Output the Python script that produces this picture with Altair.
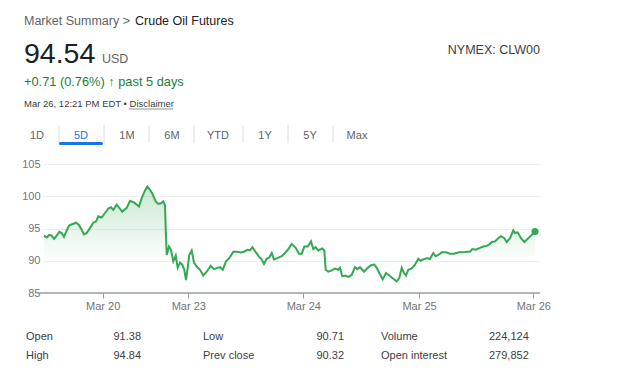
import altair as alt
import pandas as pd

# ---- price series (trading hours since start, price) ----
hours = [0.0, 0.54, 1.06, 1.54, 2.0, 2.54, 3.06, 3.54, 4.0, 4.54, 5.06, 5.74, 6.4, 6.94, 7.54, 8.0,
         8.54, 9.2, 9.86, 10.4, 10.86, 11.54, 12.2, 12.86, 13.4, 13.86, 14.54, 15.06, 15.66, 16.54,
         17.2, 18.06, 19.0, 19.54, 20.2, 20.66, 21.2, 21.74, 22.34, 22.86, 23.4, 23.86, 24.2, 24.34,
         24.54, 25.0, 25.4, 25.86, 26.34, 26.74, 27.2, 27.66, 28.06, 28.4, 28.74, 29.06, 29.54, 30.0,
         30.54, 31.2, 31.86, 32.54, 33.34, 34.0, 34.66, 35.2, 35.74, 36.4, 37.06, 37.86, 38.54, 39.34,
         40.0, 40.66, 41.2, 41.66, 42.2, 42.86, 43.54, 44.0, 44.54, 45.06, 45.54, 46.0, 46.66, 47.54,
         48.2, 48.86, 49.54, 50.34, 51.0, 51.54, 52.06, 52.74, 53.4, 53.86, 54.34, 54.86, 55.66, 56.06,
         56.34, 56.86, 57.54, 58.2, 58.86, 59.2, 59.66, 60.2, 60.86, 61.54, 62.2, 62.66, 63.2, 64.0,
         64.74, 65.4, 66.06, 66.54, 67.06, 67.74, 68.4, 69.06, 69.74, 70.54, 71.06, 71.54, 72.0, 72.4,
         72.86, 73.54, 74.2, 74.86, 75.34, 75.86, 76.54, 77.2, 77.86, 78.34, 78.86, 79.54, 80.4, 81.2,
         82.0, 83.0, 83.86, 84.54, 85.2, 85.66, 86.34, 87.2, 87.86, 88.54, 89.0, 89.54, 90.2, 90.74,
         91.4, 92.06, 92.54, 93.2, 93.86, 94.2, 94.74, 95.4, 96.06, 96.74, 97.4, 98.2]
prices = [93.9, 93.6, 94.0, 93.9, 93.4, 93.9, 94.5, 94.3, 93.7, 94.7, 95.5, 95.7, 95.9, 95.6, 94.8, 94.1,
          94.3, 95.1, 95.9, 96.1, 96.9, 96.7, 97.4, 98.1, 98.3, 97.9, 98.7, 98.2, 97.6, 98.2,
          99.3, 99.0, 98.4, 99.7, 100.9, 101.5, 101.0, 100.3, 99.2, 98.8, 98.9, 99.2, 98.6, 95.1,
          90.9, 92.2, 91.7, 89.9, 90.8, 88.9, 89.7, 89.4, 88.6, 87.0, 88.9, 90.9, 91.6, 89.7,
          89.1, 88.6, 87.7, 88.3, 89.2, 88.7, 88.9, 89.0, 88.6, 89.9, 90.4, 91.4, 91.4, 91.3,
          91.4, 91.7, 91.6, 92.1, 91.5, 90.8, 90.2, 89.5, 90.3, 90.5, 91.2, 90.2, 90.4, 90.7,
          91.2, 91.8, 92.6, 92.0, 91.1, 91.1, 92.2, 92.2, 93.0, 91.8, 92.1, 91.6, 91.9, 91.6,
          88.6, 88.3, 88.5, 88.8, 88.6, 88.9, 87.6, 87.7, 87.5, 87.8, 89.0, 88.7, 89.0, 88.3,
          88.9, 89.3, 89.4, 88.9, 88.1, 87.1, 88.1, 87.7, 87.3, 86.8, 87.3, 88.9, 88.1, 87.7,
          88.6, 88.8, 89.4, 90.3, 90.0, 90.2, 90.4, 90.3, 91.2, 90.7, 90.9, 91.3, 91.3, 91.1,
          91.1, 91.3, 91.3, 91.4, 91.4, 91.8, 91.7, 92.0, 92.2, 92.3, 92.5, 92.9, 93.0, 93.4,
          93.8, 93.5, 92.9, 93.5, 94.7, 94.3, 94.4, 93.5, 92.9, 93.4, 93.9, 94.54]

tick_pos = [11.74, 28.86, 51.86, 75.0, 97.86]
tick_labels = ["Mar 20", "Mar 23", "Mar 24", "Mar 25", "Mar 26"]
y_ticks = [85, 90, 95, 100, 105]

tabs = ["1D", "5D", "1M", "6M", "YTD", "1Y", "5Y", "Max"]
selected_tab = "5D"

stat_labels_1 = ["Open", "High"]
stat_values_1 = ["91.38", "94.84"]
stat_labels_2 = ["Low", "Prev close"]
stat_values_2 = ["90.71", "90.32"]
stat_labels_3 = ["Volume", "Open interest"]
stat_values_3 = ["224,124", "279,852"]

df = pd.DataFrame({"h": hours, "p": prices})
last = df.tail(1)
one = alt.Data(values=[{"a": 1}])

FONT = "Liberation Sans, Arial, Helvetica, sans-serif"
GREEN = "#34a853"
W, H = 497, 129

xscale = alt.Scale(domain=[-0.2, 99.2], nice=False, zero=False)
yscale = alt.Scale(domain=[85, 105], nice=False, zero=False)

label_expr = ("[" + ",".join("'%s'" % l for l in tick_labels) + "][indexof(["
              + ",".join(str(v) for v in tick_pos) + "], datum.value)]")

xaxis = alt.Axis(values=tick_pos, labelExpr=label_expr, title=None, domain=False, ticks=True,
                 tickSize=5, tickColor="#9aa0a6", labelColor="#70757a", labelFontSize=11,
                 labelPadding=2, grid=False, labelFont=FONT, labelOverlap=False, labelFlush=False)
yaxis = alt.Axis(values=y_ticks, title=None, domain=False, ticks=False, labelColor="#70757a",
                 labelFontSize=11, labelPadding=3, gridColor="#eeeeee", gridWidth=1, labelFont=FONT)

area = alt.Chart(df).mark_area(
    color=alt.Gradient(gradient="linear", x1=0, x2=0, y1=0, y2=1, stops=[
        alt.GradientStop(color="rgba(52,168,83,0.26)", offset=0),
        alt.GradientStop(color="rgba(52,168,83,0.03)", offset=0.72),
        alt.GradientStop(color="rgba(52,168,83,0.0)", offset=1)])
).encode(x=alt.X("h:Q", scale=xscale, axis=xaxis),
         y=alt.Y("p:Q", scale=yscale, axis=yaxis),
         y2=alt.Y2(datum=90.5))

line = alt.Chart(df).mark_line(color=GREEN, strokeWidth=2).encode(
    x=alt.X("h:Q", scale=xscale, axis=xaxis), y=alt.Y("p:Q", scale=yscale, axis=yaxis))
dot = alt.Chart(last).mark_circle(color=GREEN, size=50, opacity=1).encode(
    x=alt.X("h:Q", scale=xscale, axis=xaxis), y=alt.Y("p:Q", scale=yscale, axis=yaxis))

base_rule = alt.Chart(one).mark_rule(color="#9aa0a6", strokeWidth=1.3).encode(
    x=alt.value(-6), x2=alt.value(W), y=alt.value(H))


def txt(s, x, y, size, color, align="left"):
    return alt.Chart(one).mark_text(text=s, align=align, baseline="alphabetic", fontSize=size,
                                    color=color, font=FONT).encode(x=alt.value(x), y=alt.value(y))


def rule(x, x2, y, y2, color, width, cap="butt"):
    return alt.Chart(one).mark_rule(color=color, strokeWidth=width, strokeCap=cap).encode(
        x=alt.value(x), x2=alt.value(x2), y=alt.value(y), y2=alt.value(y2))


layers = [area, base_rule, line, dot]

# header
layers += [
    txt("Market Summary > ", -19, -139, 12.5, "#5f6368"),
    txt("Crude Oil Futures", 92, -139, 12.5, "#202124"),
    txt("94.54", -19, -101, 28.5, "#202124"),
    txt("USD", 59, -101, 12.5, "#5f6368"),
    txt("+0.71 (0.76%) \u2191 past 5 days", -19, -78, 12.8, "#188038"),
    txt("Mar 26, 12:21 PM EDT \u2022 Disclaimer", -19, -57, 9.5, "#3c4043"),
    rule(86, 130, -55, -55, "#70757a", 0.8),
    txt("NYMEX: CLW00", W, -110, 12.5, "#3c4043", align="right"),
]

# tabs
tab_centers = [-6, 38, 84, 129, 175, 222, 267, 314]
for t, cx in zip(tabs, tab_centers):
    layers.append(txt(t, cx, -25, 11, "#1a73e8" if t == selected_tab else "#5f6368", align="center"))
for sx in [16, 61, 106, 151, 200, 245, 290]:
    layers.append(rule(sx, sx, -39, -21, "#dadce0", 1))
layers.append(rule(17.5, 58.5, -20.5, -20.5, "#1a73e8", 3, cap="round"))

# stats table
row_y = [176, 195]
for i in range(2):
    layers += [
        txt(stat_labels_1[i], -17, row_y[i], 11, "#3c4043"),
        txt(stat_values_1[i], 98, row_y[i], 11, "#3c4043", align="right"),
        txt(stat_labels_2[i], 160, row_y[i], 11, "#3c4043"),
        txt(stat_values_2[i], 301, row_y[i], 11, "#3c4043", align="right"),
        txt(stat_labels_3[i], 338, row_y[i], 11, "#3c4043"),
        txt(stat_values_3[i], 446, row_y[i], 11, "#3c4043"),
    ]

chart = alt.layer(*layers).properties(
    width=W, height=H,
    padding={"left": 35, "top": 156, "right": 70, "bottom": 68},
    autosize=alt.AutoSizeParams(type="none"),
).configure_view(stroke=None)

chart.save("out.html", embed_options={"renderer": "svg", "actions": False})
